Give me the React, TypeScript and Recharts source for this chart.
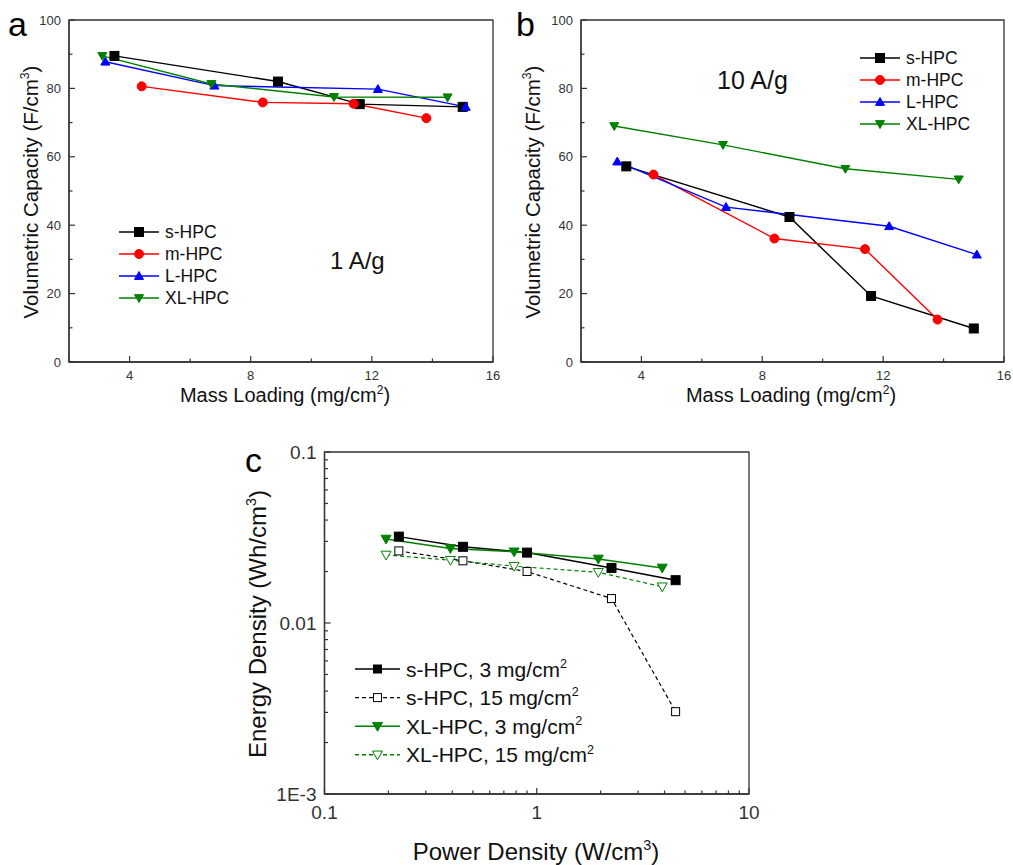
import React from 'react';
import { LineChart, Line, XAxis, YAxis, ReferenceArea } from 'recharts';

const FONT = '"Liberation Sans", Arial, Helvetica, sans-serif';

// --- data: mass loading (mg/cm2) per material ---
const loadingS = [3.5, 8.9, 11.6, 15.0];
const loadingM = [4.4, 8.4, 11.4, 13.8];
const loadingL = [3.2, 6.8, 12.2, 15.1];
const loadingXL = [3.1, 6.7, 10.75, 14.5];

// volumetric capacity (F/cm3) at 1 A/g
const cap1S = [89.5, 82.0, 75.4, 74.6];
const cap1M = [80.6, 75.9, 75.5, 71.3];
const cap1L = [87.8, 80.8, 79.8, 74.6];
const cap1XL = [89.5, 81.3, 77.5, 77.4];

// volumetric capacity (F/cm3) at 10 A/g
const cap10S = [57.2, 42.4, 19.3, 9.8];
const cap10M = [54.8, 36.1, 33.0, 12.4];
const cap10L = [58.6, 45.3, 39.7, 31.4];
const cap10XL = [69.0, 63.5, 56.5, 53.4];

// Ragone data: power density (W/cm3) and energy density (Wh/cm3)
const powerS = [0.224, 0.449, 0.9, 2.25, 4.51];
const powerXL = [0.195, 0.392, 0.782, 1.95, 3.9];
const energyS3 = [0.032, 0.0279, 0.0258, 0.021, 0.0178];
const energyS15 = [0.0264, 0.0231, 0.02, 0.0139, 0.00303];
const energyXL3 = [0.031, 0.0273, 0.0261, 0.0237, 0.021];
const energyXL15 = [0.025, 0.0233, 0.0215, 0.0198, 0.0163];

// ticks
const massTicks = [2, 4, 6, 8, 10, 12, 14, 16];
const capTicks = [0, 10, 20, 30, 40, 50, 60, 70, 80, 90, 100];
const powerTicks = [0.1, 0.2, 0.3, 0.4, 0.5, 0.6, 0.7, 0.8, 0.9, 1, 2, 3, 4, 5, 6, 7, 8, 9, 10];
const energyTicks = [
  0.001, 0.002, 0.003, 0.004, 0.005, 0.006, 0.007, 0.008, 0.009,
  0.01, 0.02, 0.03, 0.04, 0.05, 0.06, 0.07, 0.08, 0.09, 0.1,
];

const materials = ['s-HPC', 'm-HPC', 'L-HPC', 'XL-HPC'];
const ragoneNames = ['s-HPC, 3 mg/cm', 's-HPC, 15 mg/cm', 'XL-HPC, 3 mg/cm', 'XL-HPC, 15 mg/cm'];

const BLACK = '#000000';
const RED = '#ff0000';
const BLUE = '#0000ff';
const GREEN = '#008000';
const AXIS = '#333333';

type Shape = 'square' | 'circle' | 'up' | 'down';

const STYLES: { color: string; shape: Shape }[] = [
  { color: BLACK, shape: 'square' },
  { color: RED, shape: 'circle' },
  { color: BLUE, shape: 'up' },
  { color: GREEN, shape: 'down' },
];

const RAGONE_STYLES = [
  { color: BLACK, shape: 'square' as Shape, open: false, dash: undefined as string | undefined },
  { color: BLACK, shape: 'square' as Shape, open: true, dash: '4 3' },
  { color: GREEN, shape: 'down' as Shape, open: false, dash: undefined },
  { color: GREEN, shape: 'down' as Shape, open: true, dash: '4 3' },
];

const zip = (xs: number[], ys: number[]) => xs.map((x, i) => ({ x, y: ys[i] }));

function Marker({ cx, cy, shape, color, size = 9, open = false }: {
  cx?: number; cy?: number; shape: Shape; color: string; size?: number; open?: boolean;
}) {
  if (cx == null || cy == null || isNaN(cx) || isNaN(cy)) return null;
  const fill = open ? '#ffffff' : color;
  const s = size / 2;
  const sw = 1;
  if (shape === 'square') {
    return <rect x={cx - s} y={cy - s} width={size} height={size} fill={fill} stroke={color} strokeWidth={sw} />;
  }
  if (shape === 'circle') {
    return <circle cx={cx} cy={cy} r={s} fill={fill} stroke={color} strokeWidth={sw} />;
  }
  if (shape === 'up') {
    return (
      <polygon
        points={`${cx},${cy - s} ${cx + s},${cy + s * 0.75} ${cx - s},${cy + s * 0.75}`}
        fill={fill} stroke={color} strokeWidth={sw}
      />
    );
  }
  return (
    <polygon
      points={`${cx - s},${cy - s * 0.75} ${cx + s},${cy - s * 0.75} ${cx},${cy + s}`}
      fill={fill} stroke={color} strokeWidth={sw}
    />
  );
}

// --- tick renderers (inward ticks, Origin style) ---

const isDecade = (v: number) => Math.abs(Math.log10(v) - Math.round(Math.log10(v))) < 1e-6;
const logLabel = (v: number) => (v < 0.005 ? '1E-3' : String(Number(v.toPrecision(3))));

function BottomTick(props: any) {
  const { x, y, payload, major, label, fontSize, offset } = props;
  const v = payload.value;
  const isMajor = major(v);
  return (
    <g>
      <line x1={x} x2={x} y1={y} y2={y - (isMajor ? 6 : 3.5)} stroke={AXIS} strokeWidth={1.2} />
      {isMajor && (
        <text x={x} y={y + offset} textAnchor="middle" fontSize={fontSize} fill={AXIS} fontFamily={FONT}>
          {label(v)}
        </text>
      )}
    </g>
  );
}

function LeftTick(props: any) {
  const { x, y, payload, major, label, fontSize, offset } = props;
  const v = payload.value;
  const isMajor = major(v);
  return (
    <g>
      <line x1={x} x2={x + (isMajor ? 6 : 3.5)} y1={y} y2={y} stroke={AXIS} strokeWidth={1.2} />
      {isMajor && (
        <text x={x - offset} y={y} dy="0.35em" textAnchor="end" fontSize={fontSize} fill={AXIS} fontFamily={FONT}>
          {label(v)}
        </text>
      )}
    </g>
  );
}

// --- panels a/b ---

function CapacityPanel({ caps, width, yAxisWidth, right }: {
  caps: number[][]; width: number; yAxisWidth: number; right: number;
}) {
  const loadings = [loadingS, loadingM, loadingL, loadingXL];
  return (
    <LineChart width={width} height={400} margin={{ top: 20, right, bottom: 8, left: 0 }}>
      <XAxis
        type="number" dataKey="x" domain={[2, 16]} ticks={massTicks} interval={0}
        axisLine={{ stroke: AXIS, strokeWidth: 1.3 }} tickLine={false} tickSize={0} tickMargin={0} height={30}
        tick={(p: any) => (
          <BottomTick {...p} major={(v: number) => v % 4 === 0} label={(v: number) => String(v)} fontSize={13} offset={18} />
        )}
      />
      <YAxis
        type="number" domain={[0, 100]} ticks={capTicks} interval={0} width={yAxisWidth}
        axisLine={{ stroke: AXIS, strokeWidth: 1.3 }} tickLine={false} tickSize={0} tickMargin={0}
        tick={(p: any) => (
          <LeftTick {...p} major={(v: number) => v % 20 === 0} label={(v: number) => String(v)} fontSize={13} offset={8} />
        )}
      />
      <ReferenceArea x1={2} x2={16} y1={0} y2={100} fill="none" fillOpacity={0} stroke={AXIS} strokeWidth={1.3} />
      {materials.map((name, i) => (
        <Line
          key={name}
          name={name}
          data={zip(loadings[i], caps[i])}
          dataKey="y"
          type="linear"
          stroke={STYLES[i].color}
          strokeWidth={1.4}
          dot={(p: any) => <Marker key={`d-${p.index}`} cx={p.cx} cy={p.cy} shape={STYLES[i].shape} color={STYLES[i].color} />}
          activeDot={false}
          isAnimationActive={false}
        />
      ))}
    </LineChart>
  );
}

// --- panel c ---

function RagonePanel() {
  const series = [
    zip(powerS, energyS3),
    zip(powerS, energyS15),
    zip(powerXL, energyXL3),
    zip(powerXL, energyXL15),
  ];
  return (
    <LineChart width={540} height={400} margin={{ top: 22, right: 21, bottom: 6, left: 0 }}>
      <XAxis
        type="number" dataKey="x" scale="log" domain={[0.1, 10]} ticks={powerTicks} interval={0}
        allowDataOverflow axisLine={{ stroke: AXIS, strokeWidth: 1.3 }} tickLine={false} tickSize={0} tickMargin={0} height={30}
        tick={(p: any) => (
          <BottomTick {...p} major={isDecade} label={(v: number) => String(v)} fontSize={19} offset={25} />
        )}
      />
      <YAxis
        type="number" scale="log" domain={[0.001, 0.1]} ticks={energyTicks} interval={0} width={94.5}
        allowDataOverflow axisLine={{ stroke: AXIS, strokeWidth: 1.3 }} tickLine={false} tickSize={0} tickMargin={0}
        tick={(p: any) => (
          <LeftTick {...p} major={isDecade} label={logLabel} fontSize={19} offset={8} />
        )}
      />
      <ReferenceArea x1={0.1} x2={10} y1={0.001} y2={0.1} fill="none" fillOpacity={0} stroke={AXIS} strokeWidth={1.3} />
      {ragoneNames.map((name, i) => {
        const st = RAGONE_STYLES[i];
        return (
          <Line
            key={name}
            name={name}
            data={series[i]}
            dataKey="y"
            type="linear"
            stroke={st.color}
            strokeWidth={st.dash ? 1.2 : 1.5}
            strokeDasharray={st.dash}
            dot={(p: any) => (
              <Marker key={`d-${p.index}`} cx={p.cx} cy={p.cy} shape={st.shape} color={st.color} open={st.open} size={st.shape === 'down' ? 10 : st.open ? 8 : 9} />
            )}
            activeDot={false}
            isAnimationActive={false}
          />
        );
      })}
    </LineChart>
  );
}

// --- overlay: titles, legends, panel letters ---

function SupTitle({ x, y, text, sup, tail, fontSize, rotate }: {
  x: number; y: number; text: string; sup: string; tail: string; fontSize: number; rotate?: boolean;
}) {
  const shift = fontSize * 0.42;
  return (
    <text
      x={x} y={y} textAnchor="middle" fontSize={fontSize} fontFamily={FONT} fill="#111"
      transform={rotate ? `rotate(-90 ${x} ${y})` : undefined}
    >
      {text}
      <tspan dy={-shift} fontSize={fontSize * 0.6}>{sup}</tspan>
      <tspan dy={shift}>{tail}</tspan>
    </text>
  );
}

function LegendBlock({ x, y, gap, lineLen, fontSize, items }: {
  x: number; y: number; gap: number; lineLen: number; fontSize: number;
  items: { name: string; sup?: string; color: string; shape: Shape; open?: boolean; dash?: string; size?: number }[];
}) {
  return (
    <g>
      {items.map((it, i) => {
        const cy = y + i * gap;
        return (
          <g key={it.name + i}>
            <line x1={x} x2={x + lineLen} y1={cy} y2={cy} stroke={it.color} strokeWidth={1.4} strokeDasharray={it.dash} />
            <Marker cx={x + lineLen / 2} cy={cy} shape={it.shape} color={it.color} open={it.open} size={it.size ?? 9} />
            <text x={x + lineLen + 6} y={cy} dy="0.36em" fontSize={fontSize} fontFamily={FONT} fill="#111">
              {it.name}
              {it.sup && <tspan dy={-fontSize * 0.42} fontSize={fontSize * 0.6}>{it.sup}</tspan>}
            </text>
          </g>
        );
      })}
    </g>
  );
}

export default function App() {
  const abItems = materials.map((name, i) => ({ name, color: STYLES[i].color, shape: STYLES[i].shape }));
  const cItems = ragoneNames.map((name, i) => ({
    name,
    sup: '2',
    color: RAGONE_STYLES[i].color,
    shape: RAGONE_STYLES[i].shape,
    open: RAGONE_STYLES[i].open,
    dash: RAGONE_STYLES[i].dash,
    size: RAGONE_STYLES[i].shape === 'down' ? 10 : 8,
  }));

  return (
    <div style={{ position: 'absolute', left: 0, top: 0, width: 1013, height: 865, background: '#fff', fontFamily: FONT }}>
      <div style={{ position: 'absolute', left: 0, top: 0 }}>
        <CapacityPanel caps={[cap1S, cap1M, cap1L, cap1XL]} width={510} yAxisWidth={69} right={17} />
      </div>
      <div style={{ position: 'absolute', left: 510, top: 0 }}>
        <CapacityPanel caps={[cap10S, cap10M, cap10L, cap10XL]} width={503} yAxisWidth={71} right={9} />
      </div>
      <div style={{ position: 'absolute', left: 230, top: 430 }}>
        <RagonePanel />
      </div>

      <svg width={1013} height={865} style={{ position: 'absolute', left: 0, top: 0, pointerEvents: 'none' }}>
        {/* panel letters */}
        <text x={8} y={36} fontSize={34} fontFamily={FONT} fill="#000">a</text>
        <text x={516} y={36} fontSize={34} fontFamily={FONT} fill="#000">b</text>
        <text x={245} y={472} fontSize={34} fontFamily={FONT} fill="#000">c</text>

        {/* axis titles */}
        <SupTitle x={38} y={192} text="Volumetric Capacity (F/cm" sup="3" tail=")" fontSize={20.5} rotate />
        <SupTitle x={540} y={192} text="Volumetric Capacity (F/cm" sup="3" tail=")" fontSize={20.5} rotate />
        <SupTitle x={285} y={402} text="Mass Loading (mg/cm" sup="2" tail=")" fontSize={20} />
        <SupTitle x={791} y={402} text="Mass Loading (mg/cm" sup="2" tail=")" fontSize={20} />
        <SupTitle x={266} y={624} text="Energy Density (Wh/cm" sup="3" tail=")" fontSize={24} rotate />
        <SupTitle x={536} y={860} text="Power Density (W/cm" sup="3" tail=")" fontSize={24} />

        {/* annotations */}
        <text x={330} y={269} fontSize={24} fontFamily={FONT} fill="#111">1 A/g</text>
        <text x={717} y={89} fontSize={25} fontFamily={FONT} fill="#111">10 A/g</text>

        {/* legends */}
        <LegendBlock x={119} y={232} gap={22} lineLen={40} fontSize={17.5} items={abItems} />
        <LegendBlock x={860} y={58} gap={22} lineLen={40} fontSize={17.5} items={abItems} />
        <LegendBlock x={355} y={669} gap={28.6} lineLen={45} fontSize={21} items={cItems} />
      </svg>
    </div>
  );
}
